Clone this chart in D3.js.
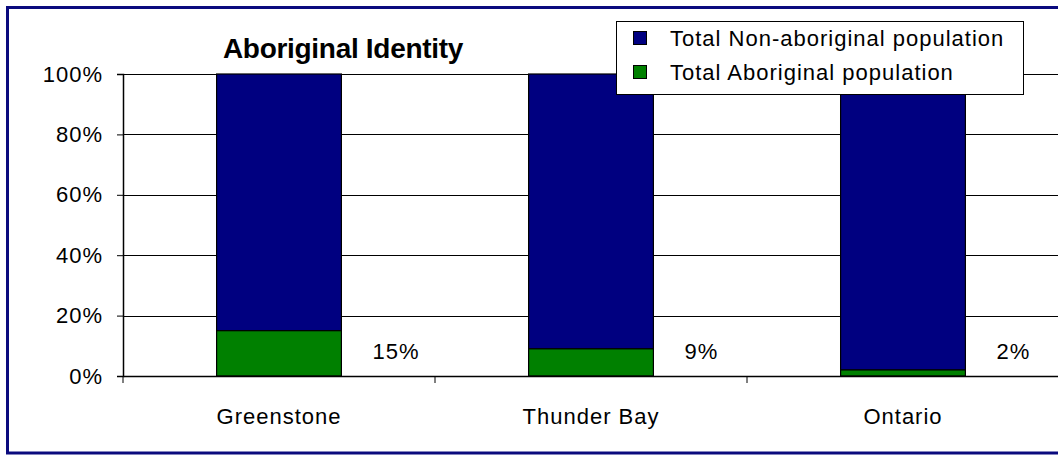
<!DOCTYPE html>
<html>
<head>
<meta charset="utf-8">
<script src="https://cdn.jsdelivr.net/npm/d3@7"></script>
<style>
  body { margin: 0; background: #fff; }
  svg { display: block; font-family: Arial, "Liberation Sans", sans-serif; }
  .tick text { font-size: 22px; letter-spacing: 1px; fill: #000; }
</style>
</head>
<body>
<svg width="1058" height="455"></svg>
<script>
const categories = ["Greenstone", "Thunder Bay", "Ontario"]
const aboriginal = [0.15, 0.09, 0.02]
const nonAboriginal = [0.85, 0.91, 0.98]
const seriesNames = ["Total Non-aboriginal population", "Total Aboriginal population"]
const yTicks = [0, 0.2, 0.4, 0.6, 0.8, 1]

const svg = d3.select("svg")
const navy = "#000080"
const green = "#008000"

// outer frame, right edge runs off the picture
svg.append("rect")
  .attr("x", 7.5).attr("y", 7.5)
  .attr("width", 1070).attr("height", 445.5)
  .attr("fill", "#fff")
  .attr("stroke", "#0a0a7e")
  .attr("stroke-width", 3)

const plotLeft = 123, plotRight = 1059, plotTop = 74, plotBottom = 376

const x = d3.scaleBand().domain(categories).range([plotLeft, plotRight]).padding(0)
const xBar = d3.scaleBand().domain(categories).range([plotLeft, plotRight])
  .paddingInner(0.6).paddingOuter(0.3)
const y = d3.scaleLinear().domain([0, 1]).range([plotBottom, plotTop])

// gridlines
svg.append("g")
  .selectAll("line")
  .data(yTicks.filter(d => d > 0))
  .join("line")
  .attr("x1", plotLeft).attr("x2", plotRight)
  .attr("y1", d => Math.round(y(d)) + 0.5).attr("y2", d => Math.round(y(d)) + 0.5)
  .attr("stroke", "#000").attr("stroke-width", 1)

// stacked bars
const stack = categories.map((c, i) => ({ c, ab: aboriginal[i], non: nonAboriginal[i] }))
const bars = svg.append("g").attr("stroke", "#000").attr("stroke-width", 1.2)
bars.selectAll(".non")
  .data(stack)
  .join("rect")
  .attr("x", d => xBar(d.c))
  .attr("width", xBar.bandwidth())
  .attr("y", d => y(d.ab + d.non))
  .attr("height", d => y(d.ab) - y(d.ab + d.non))
  .attr("fill", navy)
bars.selectAll(".ab")
  .data(stack)
  .join("rect")
  .attr("x", d => xBar(d.c))
  .attr("width", xBar.bandwidth())
  .attr("y", d => y(d.ab))
  .attr("height", d => y(0) - y(d.ab))
  .attr("fill", green)

// value labels, Excel put them beside the bars at a fixed height
svg.append("g")
  .selectAll("text")
  .data(stack)
  .join("text")
  .attr("x", d => x(d.c) + x.bandwidth() * 0.8)
  .attr("y", y(0.083))
  .attr("dy", "0.35em")
  .attr("font-size", 22)
  .attr("letter-spacing", "1px")
  .text(d => Math.round(d.ab * 100) + "%")

// y axis
const yAxis = svg.append("g")
  .attr("transform", `translate(${plotLeft},0)`)
  .call(d3.axisLeft(y).tickValues(yTicks).tickFormat(d3.format(".0%")).tickSize(6).tickPadding(14))
yAxis.select(".domain").attr("stroke-width", 1.5)
yAxis.selectAll(".tick line").attr("stroke-width", 1)

// x axis: labels centred, ticks on category boundaries
const xAxis = svg.append("g")
  .attr("transform", `translate(0,${plotBottom})`)
  .call(d3.axisBottom(x).tickSize(0).tickPadding(32))
xAxis.select(".domain").attr("stroke-width", 1.5)
xAxis.append("g")
  .selectAll("line")
  .data(categories)
  .join("line")
  .attr("x1", d => x(d)).attr("x2", d => x(d))
  .attr("y1", 0).attr("y2", 7)
  .attr("stroke", "#000")

// title
svg.append("text")
  .attr("x", 343).attr("y", 58)
  .attr("text-anchor", "middle")
  .attr("font-size", 28)
  .attr("font-weight", "bold")
  .attr("letter-spacing", "-0.3px")
  .text("Aboriginal Identity")

// legend
const legend = svg.append("g").attr("transform", "translate(616,21)")
legend.append("rect")
  .attr("x", 0.5).attr("y", 0.5)
  .attr("width", 407).attr("height", 73)
  .attr("fill", "#fff").attr("stroke", "#000")
const items = legend.selectAll(".item")
  .data(seriesNames)
  .join("g")
  .attr("transform", (d, i) => `translate(0,${17 + i * 34})`)
items.append("rect")
  .attr("x", 17.5).attr("y", -6.5)
  .attr("width", 13).attr("height", 13)
  .attr("fill", (d, i) => i === 0 ? navy : green)
  .attr("stroke", "#000")
items.append("text")
  .attr("x", 54)
  .attr("dy", "0.35em")
  .attr("font-size", 22)
  .attr("letter-spacing", "1px")
  .text(d => d)
</script>
</body>
</html>
